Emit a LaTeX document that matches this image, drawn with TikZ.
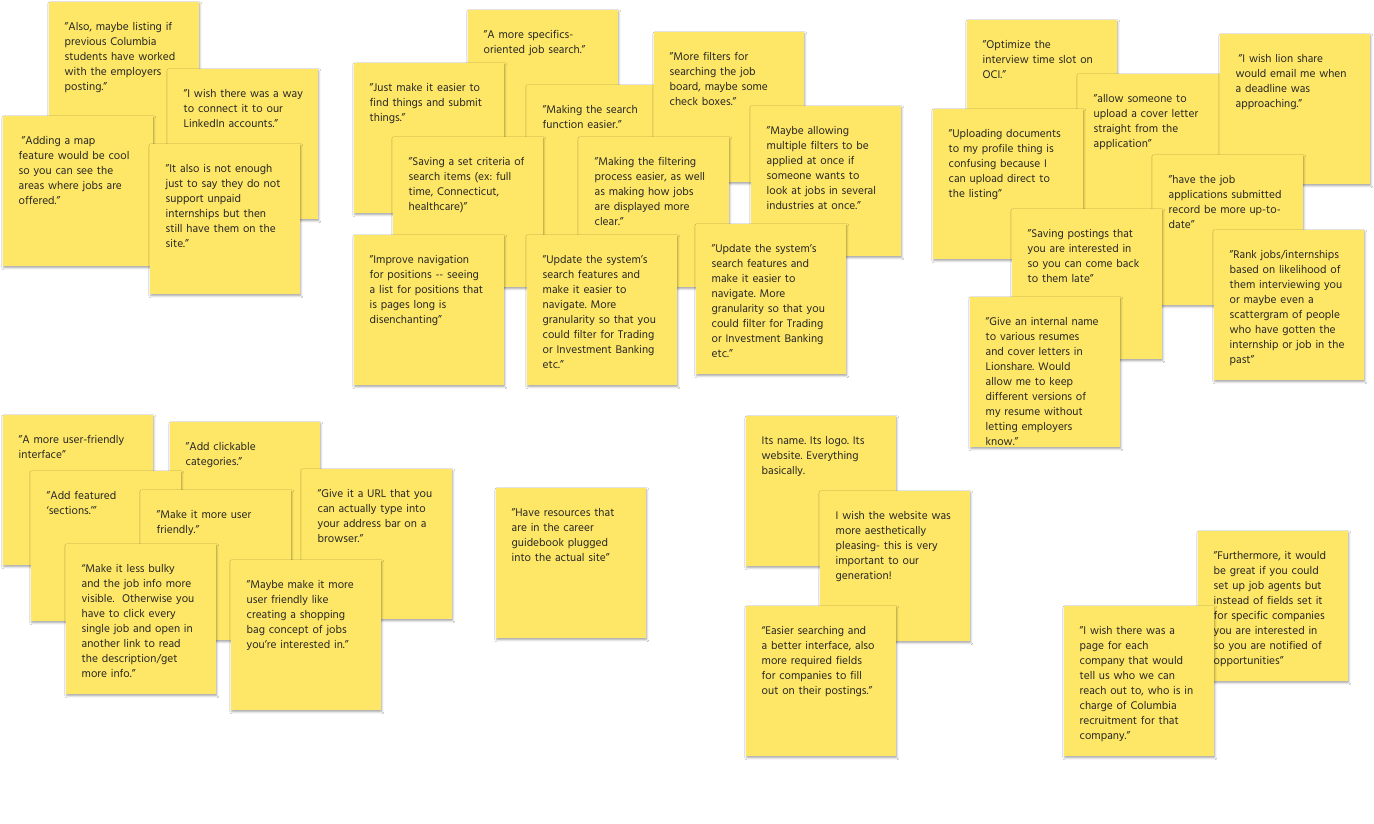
\documentclass[tikz,border=0pt]{standalone}
\usepackage{fontspec}
\setmainfont{Hind Siliguri}
\usetikzlibrary{shadows.blur}
\definecolor{notey}{HTML}{FEE766}
\definecolor{notetxt}{HTML}{262626}
\tikzset{
  notebox/.style={anchor=north west, minimum width=150pt, minimum height=150pt, inner sep=0pt, fill=notey, draw=none,
    blur shadow={shadow xshift=0.6pt, shadow yshift=-1.6pt, shadow blur radius=2pt, shadow opacity=35}},
  notetext/.style={anchor=base west, inner sep=0pt, text width=145pt, align=left, text=notetxt,
    font=\fontsize{11.4}{15}\selectfont\frenchspacing}
}
\newcommand\stickynote[4]{%
  \node[notebox] (#1) at (#2,#3) {};
  \node[notetext] (#1-t) at ([xshift=15.5pt,yshift=-28pt]#1.north west) {#4};
}
\begin{document}
\begin{tikzpicture}[x=1pt,y=-1pt]
\useasboundingbox[fill=white] (0,0) rectangle (1374,823);
% cluster 1
\stickynote{n1}{49}{2}{"Also, maybe listing if\\previous Columbia\\students have worked\\with the employers\\posting."}
\stickynote{n2}{168}{69}{"I wish there was a way\\to connect it to our\\LinkedIn accounts."}
\stickynote{n3}{3}{116}{\hspace*{3pt}"Adding a map\\feature would be cool\\so you can see the\\areas where jobs are\\offered."}
\stickynote{n4}{150}{144}{"It also is not enough\\just to say they do not\\support unpaid\\internships but then\\still have them on the\\site."}
% cluster 2
\stickynote{n5}{468}{10}{"A more specifics-\\oriented job search.”}
\stickynote{n6}{354}{63}{"Just make it easier to\\find things and submit\\things."}
\stickynote{n8}{527}{85}{"Making the search\\function easier."}
\stickynote{n7}{654}{32}{"More filters for\\searching the job\\board, maybe some\\check boxes."}
\stickynote{n9}{751}{106}{"Maybe allowing\\multiple filters to be\\applied at once if\\someone wants to\\look at jobs in several\\industries at once."}
\stickynote{n10}{393}{137}{"Saving a set criteria of\\search items (ex: full\\time, Connecticut,\\healthcare)"}
\stickynote{n11}{579}{137}{"Making the filtering\\process easier, as well\\as making how jobs\\are displayed more\\clear."}
\stickynote{n12}{354}{235}{"Improve navigation\\for positions -{}- seeing\\a list for positions that\\is pages long is\\disenchanting"}
\stickynote{n13}{527}{235}{"Update the system's\\search features and\\make it easier to\\navigate. More\\granularity so that you\\could filter for Trading\\or Investment Banking\\etc."}
\stickynote{n14}{696}{224}{"Update the system's\\search features and\\make it easier to\\navigate. More\\granularity so that you\\could filter for Trading\\or Investment Banking\\etc."}
% cluster 3
\stickynote{n15}{967}{20}{"Optimize the\\interview time slot on\\OCI.”}
\stickynote{n17}{1078}{74}{"allow someone to\\upload a cover letter\\straight from the\\application"}
\stickynote{n16}{1220}{34}{\hspace*{3pt}"I wish lion share\\would email me when\\a deadline was\\approaching."}
\stickynote{n18}{933}{109}{"Uploading documents\\to my profile thing is\\confusing because I\\can upload direct to\\the listing"}
\stickynote{n19}{1153}{155}{"have the job\\applications submitted\\record be more up-to-\\date"}
\stickynote{n20}{1012}{209}{"Saving postings that\\you are interested in\\so you can come back\\to them late"}
\stickynote{n21}{1214}{230}{"Rank jobs/internships\\based on likelihood of\\them interviewing you\\or maybe even a\\scattergram of people\\who have gotten the\\internship or job in the\\past"}
\stickynote{n22}{970}{297}{"Give an internal name\\to various resumes\\and cover letters in\\Lionshare. Would\\allow me to keep\\different versions of\\my resume without\\letting employers\\know.”}
% cluster 4
\stickynote{n23}{3}{415}{"A more user-friendly\\interface"}
\stickynote{n24}{170}{422}{"Add clickable\\categories.”}
\stickynote{n25}{31}{471}{"Add featured\\‘sections.’”}
\stickynote{n26}{141}{490}{"Make it more user\\friendly.”}
\stickynote{n27}{302}{469}{"Give it a URL that you\\can actually type into\\your address bar on a\\browser.”}
\stickynote{n28}{66}{544}{“Make it less bulky\\and the job info more\\visible.\ \ Otherwise you\\have to click every\\single job and open in\\another link to read\\the description/get\\more info.”}
\stickynote{n29}{231}{560}{"Maybe make it more\\user friendly like\\creating a shopping\\bag concept of jobs\\you're interested in.”}
% standalone
\stickynote{n30}{496}{488}{"Have resources that\\are in the career\\guidebook plugged\\into the actual site"}
% cluster 5
\stickynote{n31}{746}{416}{Its name. Its logo. Its\\website. Everything\\basically.}
\stickynote{n32}{820}{491}{I wish the website was\\more aesthetically\\pleasing- this is very\\important to our\\generation!}
\stickynote{n33}{746}{606}{“Easier searching and\\a better interface, also\\more required fields\\for companies to fill\\out on their postings.”}
% cluster 6
\stickynote{n34}{1198}{531}{"Furthermore, it would\\be great if you could\\set up job agents but\\instead of fields set it\\for specific companies\\you are interested in\\so you are notified of\\opportunities"}
\stickynote{n35}{1064}{606}{"I wish there was a\\page for each\\company that would\\tell us who we can\\reach out to, who is in\\charge of Columbia\\recruitment for that\\company."}
\end{tikzpicture}
\end{document}
